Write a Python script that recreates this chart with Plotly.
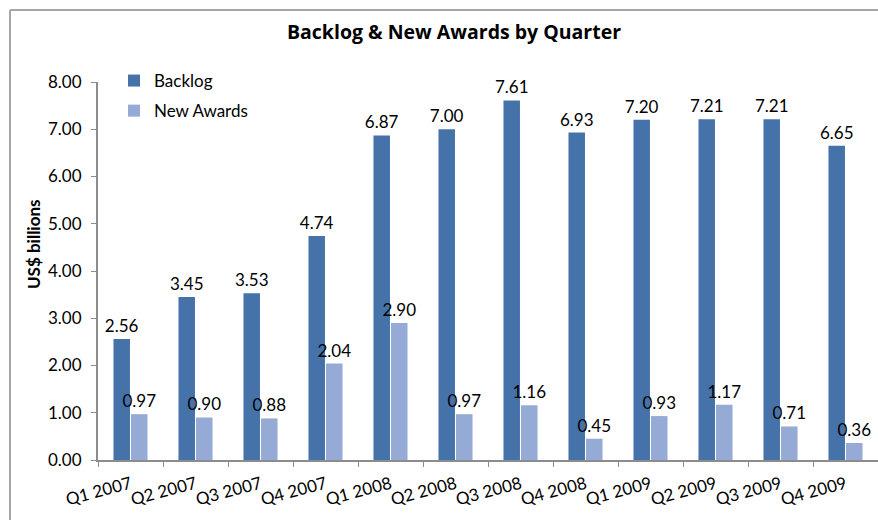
import plotly.graph_objects as go

quarters = ["Q1 2007", "Q2 2007", "Q3 2007", "Q4 2007", "Q1 2008", "Q2 2008",
            "Q3 2008", "Q4 2008", "Q1 2009", "Q2 2009", "Q3 2009", "Q4 2009"]
backlog = [2.56, 3.45, 3.53, 4.74, 6.87, 7.00, 7.61, 6.93, 7.20, 7.21, 7.21, 6.65]
new_awards = [0.97, 0.90, 0.88, 2.04, 2.90, 0.97, 1.16, 0.45, 0.93, 1.17, 0.71, 0.36]
y_ticks = [0, 1, 2, 3, 4, 5, 6, 7, 8]

FONT = "Lato"
W, H = 878, 520
ML, MR, MT, MB = 98, 0, 82, 60
PW, PH = W - ML - MR, H - MT - MB


def px_to_paper_x(px):
    return (px - ML) / PW


def px_to_paper_y(py):
    return (H - MB - py) / PH


fig = go.Figure()
fig.add_trace(go.Bar(
    name="Backlog", x=quarters, y=backlog,
    marker=dict(color="#4672AA", line=dict(width=0)),
    text=[f"{v:.2f}" for v in backlog], textposition="outside",
    textfont=dict(size=17, color="#000000", family=FONT),
    constraintext="none", cliponaxis=False, legendgroup="a",
))
fig.add_trace(go.Bar(
    name="New Awards", x=quarters, y=new_awards,
    marker=dict(color="#95ABD5", line=dict(width=0)),
    text=[f"{v:.2f}" for v in new_awards], textposition="outside",
    textfont=dict(size=17, color="#000000", family=FONT),
    constraintext="none", cliponaxis=False, legendgroup="b",
))

frame = dict(color="#A6A6A6", width=2)
fig.update_layout(
    width=W, height=H,
    margin=dict(l=ML, r=MR, t=MT, b=MB, autoexpand=False),
    paper_bgcolor="white", plot_bgcolor="white",
    font=dict(family=FONT, size=17, color="#000000"),
    barmode="group", bargap=0.46, bargroupgap=0.06,
    title=dict(text="<b>Backlog & New Awards by Quarter</b>",
               x=454 / W, xanchor="center", y=1 - 32 / H, yanchor="middle",
               font=dict(size=19.5, family="Open Sans", color="#000000")),
    showlegend=True,
    legend=dict(x=px_to_paper_x(114), y=px_to_paper_y(63), xanchor="left", yanchor="top",
                bgcolor="rgba(0,0,0,0)", font=dict(size=17, family=FONT),
                traceorder="grouped", tracegroupgap=5),
    xaxis=dict(type="category", showline=True, linecolor="#8C8C8C", linewidth=2,
               ticks="outside", tickson="boundaries", ticklen=5, tickcolor="#8C8C8C",
               tickwidth=1, tickangle=-15, tickfont=dict(size=17, family=FONT),
               ticklabelstandoff=6, showgrid=False, zeroline=False),
    yaxis=dict(range=[0, 8], tickvals=y_ticks, ticktext=[f"{v:.2f}" for v in y_ticks],
               showline=True, linecolor="#8C8C8C", linewidth=2, ticks="outside",
               ticklen=5, tickcolor="#8C8C8C", showgrid=False, zeroline=False,
               ticklabelstandoff=6, tickfont=dict(size=17, family=FONT)),
    annotations=[dict(text="<b>US$ billions</b>", xref="paper", yref="paper",
                      x=px_to_paper_x(33), y=px_to_paper_y(244), textangle=-90,
                      showarrow=False, xanchor="center", yanchor="middle",
                      font=dict(size=17, family=FONT, color="#000000"))],
    shapes=[
        dict(type="line", xref="paper", yref="paper",
             x0=px_to_paper_x(10), x1=px_to_paper_x(10),
             y0=px_to_paper_y(560), y1=px_to_paper_y(10), line=frame, layer="below"),
        dict(type="line", xref="paper", yref="paper",
             x0=px_to_paper_x(10), x1=px_to_paper_x(900),
             y0=px_to_paper_y(10), y1=px_to_paper_y(10), line=frame, layer="below"),
    ],
)

fig.write_html(
    "out.html",
    config={"displayModeBar": False},
    post_script="document.body.style.margin='0';document.body.style.overflow='hidden';",
)
